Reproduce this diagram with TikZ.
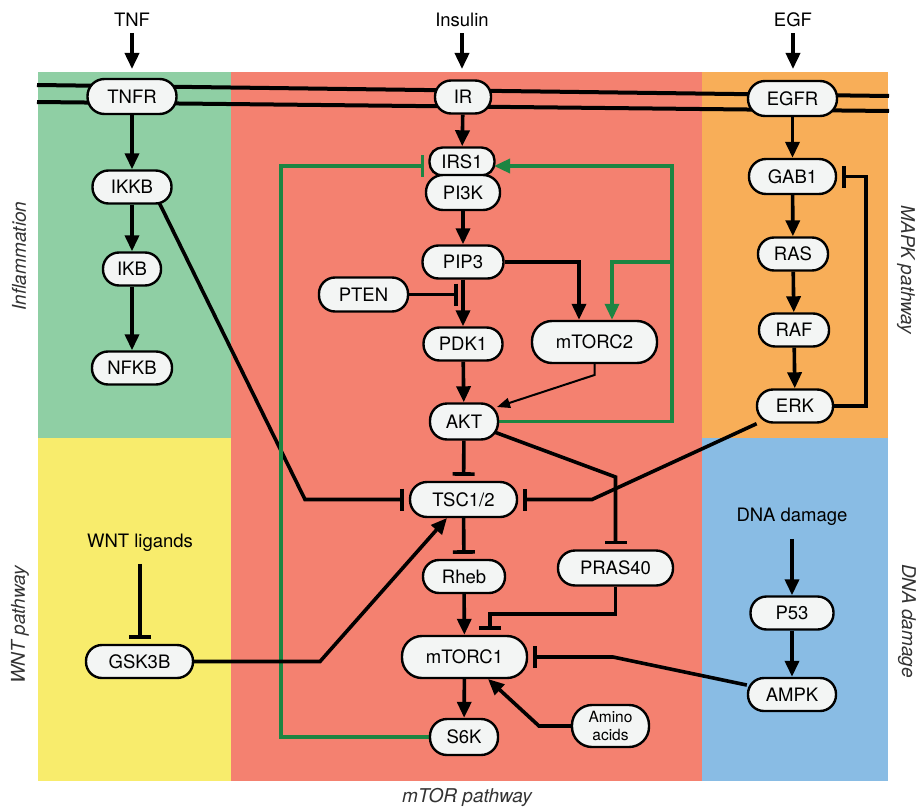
\documentclass[tikz,border=0pt]{standalone}
\usepackage{fontspec}
\setmainfont{TeX Gyre Heros}
\usetikzlibrary{arrows.meta,calc}
\definecolor{bgG}{HTML}{8FCFA4}
\definecolor{bgR}{HTML}{F48170}
\definecolor{bgO}{HTML}{F8AE58}
\definecolor{bgY}{HTML}{F8EC6C}
\definecolor{bgB}{HTML}{89BCE4}
\definecolor{nfill}{HTML}{F3F5F4}
\definecolor{fb}{HTML}{1C8542}
\definecolor{lbl}{HTML}{333333}
\pgfdeclarelayer{bglayer}
\pgfdeclarelayer{edges}
\pgfsetlayers{bglayer,edges,main}
\begin{document}
\begin{tikzpicture}[x=1pt,y=-1pt,
  pill/.style={rectangle, rounded corners=16pt, draw=black, line width=2.4pt, fill=nfill, inner sep=0pt, minimum height=33pt, font=\fontsize{18.5}{20}\selectfont},
  tall/.style={minimum height=42pt, rounded corners=20pt},
  plain/.style={inner sep=0pt, font=\fontsize{18.5}{20}\selectfont},
  side/.style={inner sep=0pt, text=lbl, font=\fontsize{19}{21}\selectfont\itshape},
  act/.style={line width=3.6pt, -{Triangle[length=16pt,width=14pt]}},
  inh/.style={line width=3.6pt, -{Bar[width=22pt]}, shorten >=5pt},
  fbact/.style={draw=fb, line width=3.4pt, -{Triangle[length=16pt,width=14pt]}},
  fbinh/.style={draw=fb, line width=3.4pt, -{Bar[width=22pt]}, shorten >=5pt},
  thinact/.style={line width=2pt, -{Triangle[length=13pt,width=10pt]}},
  membrane/.style={line width=4pt},
]
\useasboundingbox (0,0) rectangle (918,808);
\begin{pgfonlayer}{bglayer}
\fill[white] (0,0) rectangle (918,808);
\fill[bgG] (38,72) rectangle (231,438);
\fill[bgR] (231,72) rectangle (702,781);
\fill[bgO] (702,72) rectangle (888,438);
\fill[bgY] (38,438) rectangle (231,781);
\fill[bgB] (702,438) rectangle (888,781);
\coordinate (m1a) at (37,85);
\coordinate (m1b) at (889,96);
\coordinate (m2a) at (37,102);
\coordinate (m2b) at (889,111);
\draw[membrane] (m1a) -- (m1b);
\draw[membrane] (m2a) -- (m2b);
\end{pgfonlayer}

% plain texts
\node[plain] (tnf) at (132,20) {TNF};
\node[plain] (ins) at (462,20) {Insulin};
\node[plain] (egf) at (793,20) {EGF};
\node[plain] (wnt) at (140,543) {WNT ligands};
\node[plain] (dna) at (792,517) {DNA damage};

% side labels
\node[side, rotate=90] (infl) at (19,256) {Inflammation};
\node[side, rotate=90] (wntp) at (20,625) {WNT pathway};
\node[side, rotate=-90] (mapk) at (906,270) {MAPK pathway};
\node[side, rotate=-90] (dnap) at (907,621) {DNA damage};
\node[side] (mtorp) at (467,797) {mTOR pathway};

% nodes
\node[pill, minimum width=89pt, minimum height=35pt, rounded corners=17pt] (tnfr) at (132,96.5) {TNFR};
\node[pill, minimum width=79pt] (ikkb) at (132,187) {IKKB};
\node[pill, minimum width=58pt] (ikb) at (132,269) {IKB};
\node[pill, minimum width=80pt] (nfkb) at (132,368) {NFKB};

\node[pill, minimum width=56pt] (ir) at (463,97) {IR};
\node[pill, minimum width=65pt, minimum height=28pt, rounded corners=13pt] (irs1) at (462,161.5) {IRS1};
\node[pill, minimum width=74pt, minimum height=35pt, rounded corners=17pt] (pi3k) at (463,192.5) {PI3K};
\node[pill, minimum width=81pt] (pip3) at (463,262) {PIP3};
\node[pill, minimum width=89pt, minimum height=34pt] (pten) at (363.5,294.5) {PTEN};
\node[pill, minimum width=79pt] (pdk1) at (463,344) {PDK1};
\node[pill, tall, minimum width=125pt] (mtorc2) at (594.5,342) {mTORC2};
\node[pill, minimum width=68pt, minimum height=36pt, rounded corners=17pt] (akt) at (464,421.5) {AKT};
\node[pill, minimum width=107pt, minimum height=35pt, rounded corners=17pt] (tsc) at (463.5,499.5) {TSC1/2};
\node[pill, minimum width=82pt] (rheb) at (464,576.5) {Rheb};
\node[pill, minimum width=115pt, minimum height=35pt, rounded corners=17pt] (pras) at (615.5,568) {PRAS40};
\node[pill, tall, minimum width=125pt] (mtorc1) at (464.5,657) {mTORC1};
\node[pill, minimum width=68pt, minimum height=36pt, rounded corners=17pt] (s6k) at (464,737) {S6K};
\node[pill, tall, minimum width=77pt, align=center, font=\fontsize{15.5}{17.5}\selectfont] (amino) at (610.5,726) {Amino\\acids};

\node[pill, minimum width=89pt, minimum height=35pt, rounded corners=17pt] (egfr) at (792.5,98.5) {EGFR};
\node[pill, minimum width=87pt, minimum height=35pt, rounded corners=17pt] (gab1) at (792.5,176.5) {GAB1};
\node[pill, minimum width=70pt] (ras) at (793,254) {RAS};
\node[pill, minimum width=70pt] (raf) at (794,330) {RAF};
\node[pill, minimum width=76pt] (erk) at (795,406) {ERK};
\node[pill, minimum width=83pt] (p53) at (792,613) {P53};
\node[pill, minimum width=88pt] (ampk) at (792,694.5) {AMPK};
\node[pill, minimum width=107pt] (gsk) at (139.5,661.5) {GSK3B};

% coordinates for bends / free ends
\coordinate (tnfE) at (132,69);
\coordinate (insE) at (462,69);
\coordinate (egfE) at (793,69);
\coordinate (ikkbS) at (152,188);
\coordinate (b1) at (305,499.5);
\coordinate (ptenT) at (463,294.5);
\coordinate (b2) at (579,262);
\coordinate (b3) at (594.5,375);
\coordinate (aktT) at (497,407);
\coordinate (g1) at (672,421.5);
\coordinate (g2) at (672,166);
\coordinate (irs1R) at (494,166);
\coordinate (g3) at (672,262);
\coordinate (g4) at (612,262);
\coordinate (g5) at (281,737);
\coordinate (g6) at (281,166);
\coordinate (irs1L) at (429,166);
\coordinate (aktS) at (480,426.7);
\coordinate (b4) at (615.5,477);
\coordinate (b5) at (592,499.5);
\coordinate (b6) at (615.5,614);
\coordinate (b7) at (490,614);
\coordinate (b8) at (613,657);
\coordinate (b9) at (539,726);
\coordinate (m1T) at (488,679);
\coordinate (b10) at (320,661.5);
\coordinate (tscT) at (447,518);
\coordinate (b11) at (866,406);
\coordinate (b12) at (866,176.5);

\begin{pgfonlayer}{edges}
% inputs
\draw[act, shorten <=6pt] (tnf.south) -- (tnfE);
\draw[act, shorten <=6pt] (ins.south) -- (insE);
\draw[act, shorten <=6pt] (egf.south) -- (egfE);
% inflammation
\draw[act] (tnfr) -- (ikkb);
\draw[act] (ikkb) -- (ikb);
\draw[act] (ikb) -- (nfkb);
\draw[inh] (ikkbS) -- (b1) -- (tsc.west);
% insulin column
\draw[act] (ir) -- (irs1);
\draw[act] (pi3k) -- (pip3);
\draw[act] (pip3) -- (pdk1);
\draw[inh] (pten) -- (ptenT);
\draw[act] (pip3.east) -- (b2) -- (b2 |- mtorc2.north);
\draw[act] (pdk1) -- (akt);
\draw[thinact] (mtorc2.south) -- (b3) -- (aktT);
\draw[fbact] (akt.east) -- (g1) -- (g2) -- (irs1R);
\draw[fbact] (g3) -- (g4) -- (g4 |- mtorc2.north);
\draw[fbinh] (s6k.west) -- (g5) -- (g6) -- (irs1L);
\draw[inh] (akt) -- (tsc);
\draw[inh] (aktS) -- (b4) -- (b4 |- pras.north);
\draw[inh] (erk) -- (b5) -- (tsc.east);
\draw[inh] (tsc) -- (rheb);
\draw[act] (rheb) -- (mtorc1);
\draw[inh] (pras.south) -- (b6) -- (b7) -- (b7 |- mtorc1.north);
\draw[inh] (ampk) -- (b8) -- (b8 -| mtorc1.east);
\draw[act] (mtorc1) -- (s6k);
\draw[act] (amino.west) -- (b9) -- (m1T);
% WNT
\draw[act] (gsk.east) -- (b10) -- (tscT);
\draw[inh, shorten <=12pt] (wnt.south) -- (wnt.south |- gsk.north);
% MAPK
\draw[act] (egfr) -- (gab1);
\draw[act] (gab1) -- (ras);
\draw[act] (ras) -- (raf);
\draw[act] (raf) -- (erk);
\draw[inh] (erk.east) -- (b11) -- (b12) -- (gab1.east);
% DNA damage
\draw[act, shorten <=13pt] (dna.south) -- (dna.south |- p53.north);
\draw[act] (p53) -- (ampk);
\end{pgfonlayer}
\end{tikzpicture}
\end{document}
